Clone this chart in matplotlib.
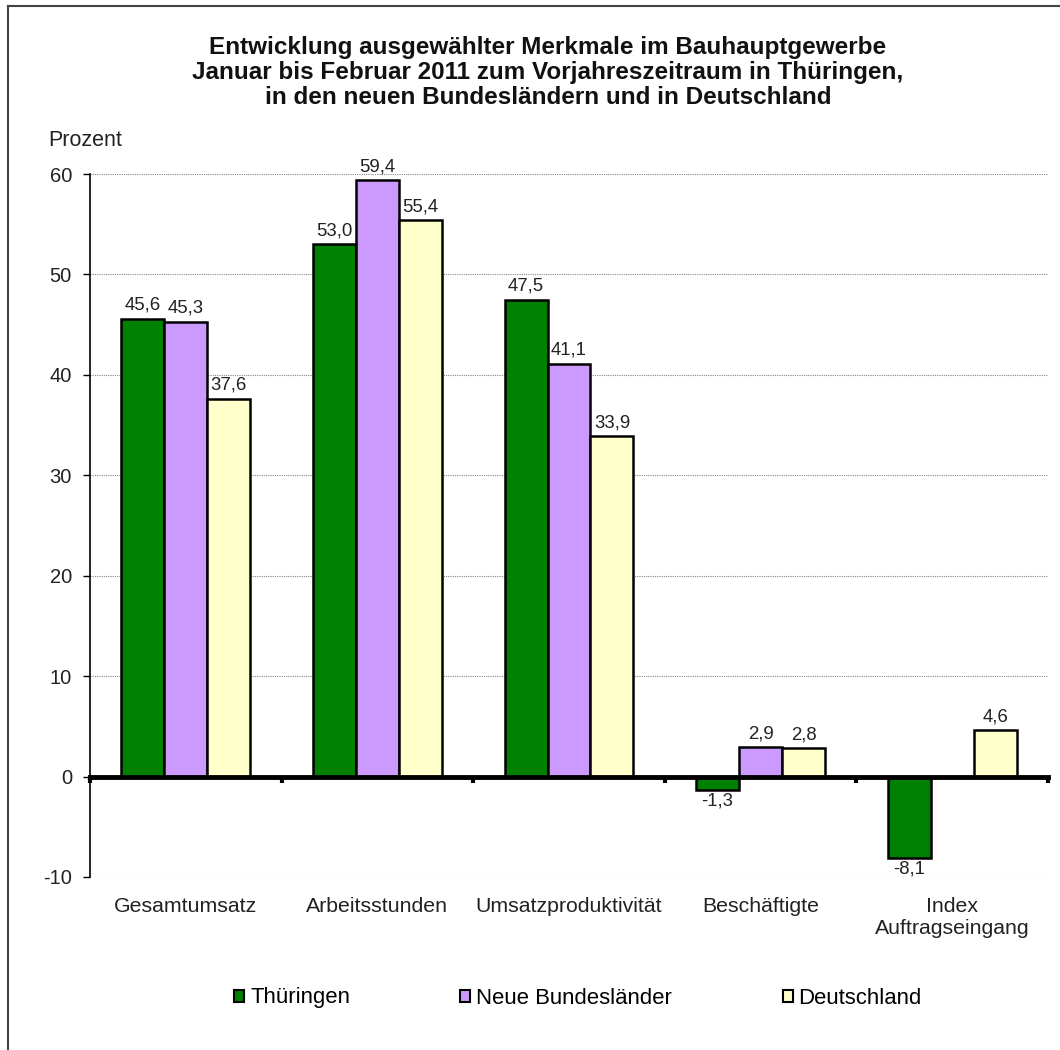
import numpy as np
import matplotlib.pyplot as plt
from matplotlib.patches import Patch
from matplotlib.lines import Line2D
import matplotlib.transforms as mtransforms

plt.rcParams['font.family'] = ['Liberation Sans', 'DejaVu Sans']
plt.rcParams['axes.unicode_minus'] = False

# data (percent change to previous year period)
categories = ["Gesamtumsatz", "Arbeitsstunden", "Umsatzproduktivität",
              "Beschäftigte", "Index\nAuftragseingang"]
series_names = ["Thüringen", "Neue Bundesländer", "Deutschland"]
thueringen = [45.6, 53.0, 47.5, -1.3, -8.1]
neue_laender = [45.3, 59.4, 41.1, 2.9, np.nan]
deutschland = [37.6, 55.4, 33.9, 2.8, 4.6]
colors = ["#008000", "#CC99FF", "#FFFFCC"]
yticks = [-10, 0, 10, 20, 30, 40, 50, 60]

title = ("Entwicklung ausgewählter Merkmale im Bauhauptgewerbe\n"
         "Januar bis Februar 2011 zum Vorjahreszeitraum in Thüringen,\n"
         "in den neuen Bundesländern und in Deutschland")

fig = plt.figure(figsize=(10.6, 10.5), dpi=100)
ax = fig.add_axes([90/1060, 1-877/1050, (1048-90)/1060, (877-174)/1050])

x = np.arange(len(categories))
width = 0.2244
all_series = [thueringen, neue_laender, deutschland]
for i, (vals, col, name) in enumerate(zip(all_series, colors, series_names)):
    pos = x + (i - 1) * width
    ax.bar(pos, vals, width, color=col, edgecolor="black", linewidth=1.8,
           label=name, zorder=3)
    for px, v in zip(pos, vals):
        if np.isnan(v):
            continue
        txt = f"{v:.1f}".replace(".", ",")
        if v >= 0:
            ax.text(px, v + 0.5, txt, ha="center", va="bottom", fontsize=13.4,
                    color="#222222", zorder=4)
        else:
            ax.text(px, v - 0.3, txt, ha="center", va="top", fontsize=13.4,
                    color="#222222", zorder=4)

ax.set_xlim(-0.5, len(categories) - 0.5)
ax.set_ylim(-10, 60)
ax.set_yticks(yticks)
ax.set_yticklabels([str(t) for t in yticks], fontsize=14.5, color="#222222")
ax.yaxis.grid(True, linestyle=(0, (1, 1)), color="#888888", linewidth=0.8, zorder=0)
ax.tick_params(axis="y", length=5, width=1, direction="out", pad=8)

ax.spines["top"].set_visible(False)
ax.spines["right"].set_visible(False)
ax.spines["left"].set_linewidth(1.2)
ax.spines["bottom"].set_position(("data", 0))
ax.spines["bottom"].set_linewidth(3.5)
ax.spines["bottom"].set_zorder(5)
ax.set_xticks(np.arange(len(categories) + 1) - 0.5)
ax.set_xticklabels([])
ax.tick_params(axis="x", length=4, width=3, direction="out")

trans = mtransforms.blended_transform_factory(ax.transData, ax.transAxes)
for xi, cat in zip(x, categories):
    ax.text(xi, -0.029, cat, transform=trans, ha="center", va="top",
            fontsize=15.3, color="#222222", linespacing=1.2)

fig.text(0.517, 0.966, title, ha="center", va="top", fontsize=17.5,
         fontweight="bold", linespacing=1.13, color="#111111")
fig.text(48/1060, 1-140/1050, "Prozent", ha="left", va="center",
         fontsize=15.5, color="#222222")

handles = [Patch(facecolor=c, edgecolor="black", linewidth=1.5) for c in colors]
fig.legend(handles, series_names, loc="center", bbox_to_anchor=(578/1060, 1-998/1050),
           ncol=3, frameon=False, fontsize=15.9, handlelength=0.45, handleheight=0.45,
           handletextpad=0.27, columnspacing=5.0)

# outer frame (top and left edges visible)
fig.add_artist(Line2D([8/1060, 1], [1-6/1050, 1-6/1050], color="#444444",
                      linewidth=1.5, transform=fig.transFigure))
fig.add_artist(Line2D([8/1060, 8/1060], [0, 1-6/1050], color="#444444",
                      linewidth=1.5, transform=fig.transFigure))

fig.savefig("out.png", dpi=100)
